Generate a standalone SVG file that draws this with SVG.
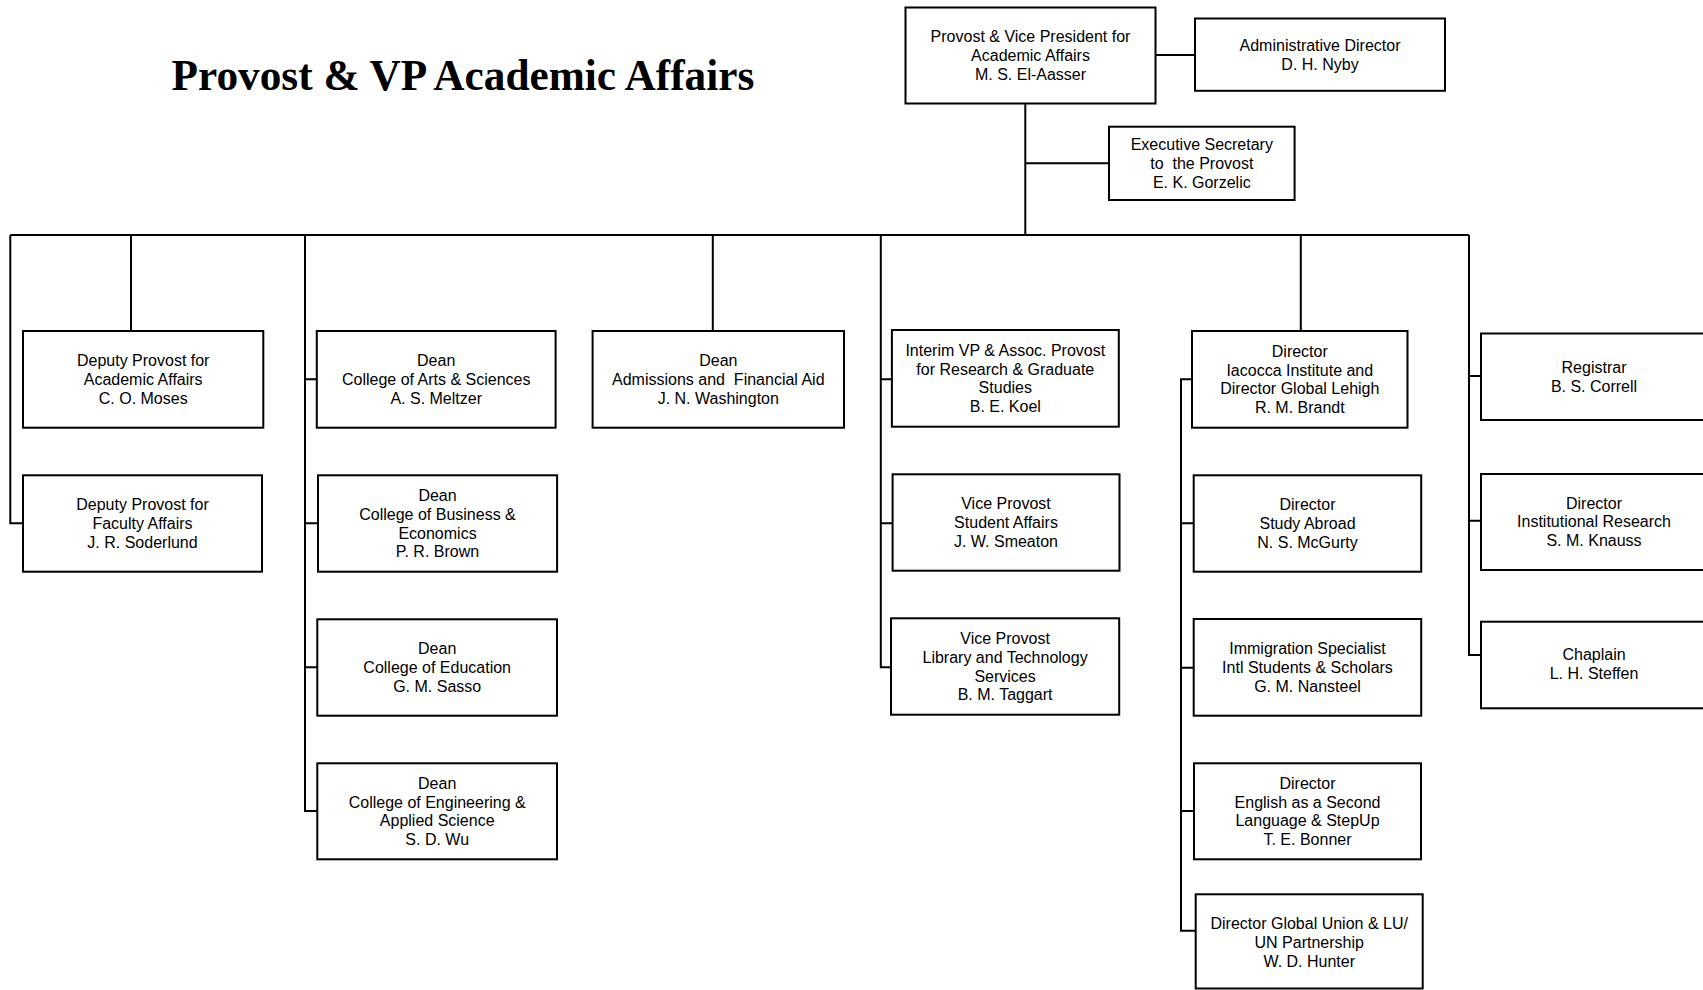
<svg xmlns="http://www.w3.org/2000/svg" width="1703" height="990" viewBox="0 0 1703 990">
<style>
  .box { fill: #ffffff; stroke: #000000; stroke-width: 2; }
  .lbl { font-family: "Liberation Sans", Arial, sans-serif; font-size: 16px; fill: #000000; text-anchor: middle; white-space: pre; }
  .conn { fill: none; stroke: #000000; stroke-width: 2; }
  .title { font-family: "Liberation Serif", "Times New Roman", serif; font-weight: bold; font-size: 43.3px; fill: #000000; }
</style>
<rect x="0" y="0" width="1703" height="990" fill="#ffffff"/>
<text class="title" x="171.5" y="90">Provost &amp; VP Academic Affairs</text>

<g id="connectors">
  <path class="conn" d="M1155.4 55 H1195"/>
  <path class="conn" d="M1025.3 103.3 V235"/>
  <path class="conn" d="M1025.3 163.3 H1109"/>
  <path class="conn" d="M10.3 235 H1469"/>
  <path class="conn" d="M10.3 235 V523.3 H23"/>
  <path class="conn" d="M131 235 V331"/>
  <path class="conn" d="M305 235 V811 H317.3"/>
  <path class="conn" d="M305 379.3 H316.8 M305 523.3 H318 M305 667.3 H317.3"/>
  <path class="conn" d="M712.8 235 V331"/>
  <path class="conn" d="M880.8 235 V667.3 H891"/>
  <path class="conn" d="M880.8 379.3 H891.9 M880.8 523.3 H892.6"/>
  <path class="conn" d="M1300.8 235 V331"/>
  <path class="conn" d="M1194 379.3 H1181 V930.7 H1195.7"/>
  <path class="conn" d="M1181 523.3 H1193.7 M1181 667.7 H1193.7 M1181 811 H1194"/>
  <path class="conn" d="M1469 235 V655 H1481"/>
  <path class="conn" d="M1469 376 H1481 M1469 520.7 H1481"/>
</g>

<g id="provost">
  <rect class="box" x="905.5" y="7.5" width="250" height="96"/>
  <text class="lbl"><tspan x="1030.5" y="42.2">Provost &amp; Vice President for</tspan><tspan x="1030.5" y="61">Academic Affairs</tspan><tspan x="1030.5" y="79.8">M. S. El-Aasser</tspan></text>
</g>
<g id="admin-director">
  <rect class="box" x="1195" y="18.5" width="250" height="72.3"/>
  <text class="lbl"><tspan x="1320" y="50.9">Administrative Director</tspan><tspan x="1320" y="69.7">D. H. Nyby</tspan></text>
</g>
<g id="exec-secretary">
  <rect class="box" x="1109" y="126.7" width="185.6" height="73.3"/>
  <text class="lbl"><tspan x="1201.8" y="150.2">Executive Secretary</tspan><tspan x="1201.8" y="169">to  the Provost</tspan><tspan x="1201.8" y="187.8">E. K. Gorzelic</tspan></text>
</g>
<g id="deputy-academic">
  <rect class="box" x="23" y="331" width="240.3" height="96.7"/>
  <text class="lbl"><tspan x="143.2" y="366.2">Deputy Provost for</tspan><tspan x="143.2" y="385">Academic Affairs</tspan><tspan x="143.2" y="403.8">C. O. Moses</tspan></text>
</g>
<g id="deputy-faculty">
  <rect class="box" x="23" y="475.3" width="239" height="96.4"/>
  <text class="lbl"><tspan x="142.5" y="510.4">Deputy Provost for</tspan><tspan x="142.5" y="529.2">Faculty Affairs</tspan><tspan x="142.5" y="548">J. R. Soderlund</tspan></text>
</g>
<g id="dean-arts">
  <rect class="box" x="316.8" y="331" width="238.8" height="96.7"/>
  <text class="lbl"><tspan x="436.2" y="366.2">Dean</tspan><tspan x="436.2" y="385">College of Arts &amp; Sciences</tspan><tspan x="436.2" y="403.8">A. S. Meltzer</tspan></text>
</g>
<g id="dean-business">
  <rect class="box" x="318" y="475.3" width="239.1" height="96.4"/>
  <text class="lbl"><tspan x="437.5" y="501">Dean</tspan><tspan x="437.5" y="519.8">College of Business &amp;</tspan><tspan x="437.5" y="538.6">Economics</tspan><tspan x="437.5" y="557.4">P. R. Brown</tspan></text>
</g>
<g id="dean-education">
  <rect class="box" x="317.3" y="619.3" width="239.7" height="96.4"/>
  <text class="lbl"><tspan x="437.2" y="654.4">Dean</tspan><tspan x="437.2" y="673.2">College of Education</tspan><tspan x="437.2" y="692">G. M. Sasso</tspan></text>
</g>
<g id="dean-engineering">
  <rect class="box" x="317.3" y="763.3" width="239.7" height="96"/>
  <text class="lbl"><tspan x="437.2" y="788.8">Dean</tspan><tspan x="437.2" y="807.6">College of Engineering &amp;</tspan><tspan x="437.2" y="826.4">Applied Science</tspan><tspan x="437.2" y="845.2">S. D. Wu</tspan></text>
</g>
<g id="dean-admissions">
  <rect class="box" x="592.6" y="331" width="251.4" height="96.7"/>
  <text class="lbl"><tspan x="718.3" y="366.2">Dean</tspan><tspan x="718.3" y="385">Admissions and  Financial Aid</tspan><tspan x="718.3" y="403.8">J. N. Washington</tspan></text>
</g>
<g id="interim-vp-research">
  <rect class="box" x="891.9" y="330" width="226.9" height="96.7"/>
  <text class="lbl"><tspan x="1005.3" y="355.8">Interim VP &amp; Assoc. Provost</tspan><tspan x="1005.3" y="374.6">for Research &amp; Graduate</tspan><tspan x="1005.3" y="393.4">Studies</tspan><tspan x="1005.3" y="412.2">B. E. Koel</tspan></text>
</g>
<g id="vp-student-affairs">
  <rect class="box" x="892.6" y="474.3" width="226.9" height="96.4"/>
  <text class="lbl"><tspan x="1006" y="509.4">Vice Provost</tspan><tspan x="1006" y="528.2">Student Affairs</tspan><tspan x="1006" y="547">J. W. Smeaton</tspan></text>
</g>
<g id="vp-library">
  <rect class="box" x="891" y="618.3" width="228.2" height="96.4"/>
  <text class="lbl"><tspan x="1005.1" y="644">Vice Provost</tspan><tspan x="1005.1" y="662.8">Library and Technology</tspan><tspan x="1005.1" y="681.6">Services</tspan><tspan x="1005.1" y="700.4">B. M. Taggart</tspan></text>
</g>
<g id="director-iacocca">
  <rect class="box" x="1192" y="331" width="215.5" height="96.7"/>
  <text class="lbl"><tspan x="1299.8" y="356.8">Director</tspan><tspan x="1299.8" y="375.6">Iacocca Institute and</tspan><tspan x="1299.8" y="394.4">Director Global Lehigh</tspan><tspan x="1299.8" y="413.2">R. M. Brandt</tspan></text>
</g>
<g id="director-study-abroad">
  <rect class="box" x="1193.7" y="475.3" width="227.5" height="96.4"/>
  <text class="lbl"><tspan x="1307.5" y="510.4">Director</tspan><tspan x="1307.5" y="529.2">Study Abroad</tspan><tspan x="1307.5" y="548">N. S. McGurty</tspan></text>
</g>
<g id="immigration-specialist">
  <rect class="box" x="1193.7" y="619" width="227.5" height="96.7"/>
  <text class="lbl"><tspan x="1307.5" y="654.2">Immigration Specialist</tspan><tspan x="1307.5" y="673">Intl Students &amp; Scholars</tspan><tspan x="1307.5" y="691.8">G. M. Nansteel</tspan></text>
</g>
<g id="director-esl">
  <rect class="box" x="1194" y="763.3" width="227" height="96"/>
  <text class="lbl"><tspan x="1307.5" y="788.8">Director</tspan><tspan x="1307.5" y="807.6">English as a Second</tspan><tspan x="1307.5" y="826.4">Language &amp; StepUp</tspan><tspan x="1307.5" y="845.2">T. E. Bonner</tspan></text>
</g>
<g id="director-global-union">
  <rect class="box" x="1195.7" y="894.3" width="227" height="94.2"/>
  <text class="lbl"><tspan x="1309.2" y="929.2">Director Global Union &amp; LU/</tspan><tspan x="1309.2" y="948">UN Partnership</tspan><tspan x="1309.2" y="966.8">W. D. Hunter</tspan></text>
</g>
<g id="registrar">
  <rect class="box" x="1481" y="333.5" width="226" height="86.5"/>
  <text class="lbl"><tspan x="1594" y="372.8">Registrar</tspan><tspan x="1594" y="391.6">B. S. Correll</tspan></text>
</g>
<g id="director-institutional-research">
  <rect class="box" x="1481" y="474" width="226" height="96"/>
  <text class="lbl"><tspan x="1594" y="508.6">Director</tspan><tspan x="1594" y="527.4">Institutional Research</tspan><tspan x="1594" y="546.2">S. M. Knauss</tspan></text>
</g>
<g id="chaplain">
  <rect class="box" x="1481" y="621.7" width="226" height="86.6"/>
  <text class="lbl"><tspan x="1594" y="660.3">Chaplain</tspan><tspan x="1594" y="679.1">L. H. Steffen</tspan></text>
</g>
</svg>
